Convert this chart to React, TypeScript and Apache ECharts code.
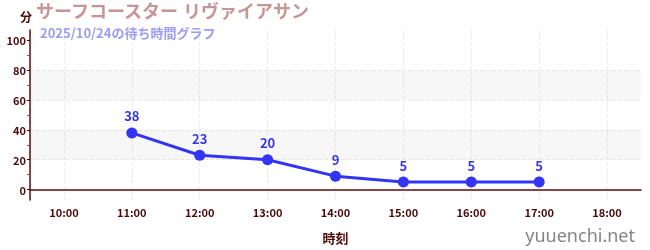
import React, { useEffect, useRef } from "react";
import * as echarts from "echarts";

const titleText = "サーフコースター リヴァイアサン";
const subtitleText = "2025/10/24の待ち時間グラフ";
const categories = ["10:00", "11:00", "12:00", "13:00", "14:00", "15:00", "16:00", "17:00", "18:00"];
const waitTimes: (number | null)[] = [null, 38, 23, 20, 9, 5, 5, 5, null];
const yMajorTicks = [0, 20, 40, 60, 80, 100];
const yMinorTicks = [10, 30, 50, 70, 90];
const bands = [[20, 40], [60, 80]];
const yUnit = "分";
const xName = "時刻";
const watermark = "yuuenchi.net";

const FONT = "'Noto Sans CJK JP', 'Noto Sans', sans-serif";
const TITLE_FONT = "'Liberation Sans', 'Noto Sans CJK JP', sans-serif";
const DARK = "#4a0a0a";
const BLUE = "#3434f4";

export default function App() {
  const ref = useRef<HTMLDivElement>(null);
  useEffect(() => {
    if (!ref.current) return;
    const chart = echarts.init(ref.current, undefined, { renderer: "svg" });
    chart.setOption({
      animation: false,
      textStyle: { fontFamily: FONT },
      title: [
        {
          text: titleText,
          left: 36,
          top: 2,
          padding: 0,
          textStyle: { fontFamily: TITLE_FONT, fontSize: 18, fontWeight: "bold", color: "#c69696", lineHeight: 20 },
        },
        {
          text: subtitleText,
          left: 40,
          top: 24.5,
          padding: 0,
          textStyle: { fontFamily: FONT, fontSize: 13, fontWeight: "bold", color: "#9c9cf6", lineHeight: 15 },
        },
      ],
      grid: { left: 30, right: 9, top: 30, bottom: 50, containLabel: false },
      xAxis: {
        type: "category",
        data: categories,
        boundaryGap: true,
        name: xName,
        nameLocation: "middle",
        nameGap: 31,
        nameTextStyle: { fontFamily: FONT, fontSize: 13, fontWeight: "bold", color: DARK },
        axisLine: { lineStyle: { color: "#5c0a0a", width: 1.5 } },
        axisTick: { alignWithLabel: true, length: 3, lineStyle: { color: "#5c0a0a" } },
        axisLabel: { fontFamily: FONT, fontSize: 11, fontWeight: "bold", color: DARK, margin: 6 },
        splitLine: { show: true, alignWithLabel: true, lineStyle: { color: "#ececec", type: "dashed" } },
      },
      yAxis: [
        {
          type: "value",
          position: "left",
          min: -7,
          max: 107,
          axisLine: { show: true, lineStyle: { color: "#5c0a0a", width: 1.5 } },
          axisTick: { show: true, length: 3, customValues: yMajorTicks, lineStyle: { color: "#3a0a0a" } },
          axisLabel: { customValues: yMajorTicks, fontFamily: FONT, fontSize: 11, fontWeight: "bold", color: DARK, margin: 4 },
          splitLine: { show: true, showMinLine: false, showMaxLine: false, lineStyle: { color: "#ececec", type: "dashed" } },
          splitArea: { show: false },
        },
        {
          type: "value",
          position: "left",
          min: -7,
          max: 107,
          axisLine: { show: false },
          axisTick: { show: true, length: 3, customValues: yMinorTicks, lineStyle: { color: "#e03030" } },
          axisLabel: { show: false },
          splitLine: { show: false },
        },
      ],
      graphic: [
        {
          type: "text",
          left: 20,
          top: 10,
          style: { text: yUnit, fontFamily: FONT, fontSize: 12, fontWeight: "bold", fill: DARK },
        },
        {
          type: "text",
          right: 15,
          bottom: 6,
          style: { text: watermark, fontFamily: "'Noto Sans', sans-serif", fontSize: 18, fill: "#858585" },
        },
      ],
      series: [
        {
          type: "line",
          data: waitTimes,
          yAxisIndex: 0,
          symbol: "circle",
          symbolSize: 11,
          connectNulls: false,
          itemStyle: { color: BLUE },
          lineStyle: { color: BLUE, width: 3 },
          label: { show: true, position: "top", distance: 5, color: BLUE, fontFamily: FONT, fontSize: 13, fontWeight: "bold" },
          markArea: {
            silent: true,
            itemStyle: { color: "rgba(0,0,0,0.03)" },
            label: { show: false },
            data: bands.map(([a, b]) => [{ yAxis: a }, { yAxis: b }]),
          },
        },
      ],
    });
    return () => chart.dispose();
  }, []);
  return <div ref={ref} style={{ position: "fixed", left: 0, top: 0, width: 650, height: 250 }} />;
}
